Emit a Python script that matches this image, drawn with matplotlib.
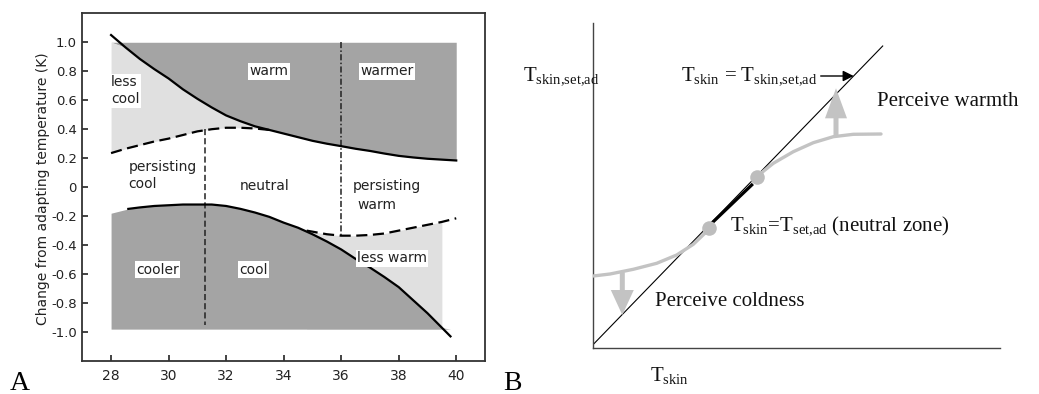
#!/usr/bin/env python3
import numpy as np
import matplotlib
matplotlib.use("Agg")
import matplotlib.pyplot as plt

plt.rcParams['font.family'] = ['DejaVu Sans']
plt.rcParams['mathtext.fontset'] = 'custom'
plt.rcParams['mathtext.rm'] = 'Liberation Serif'
plt.rcParams['mathtext.it'] = 'Liberation Serif:italic'
plt.rcParams['mathtext.bf'] = 'Liberation Serif:bold'

# ---- Panel A data (skin temperature vs change from adapting temperature) ----
x_ticks = [28, 30, 32, 34, 36, 38, 40]
y_ticks = [1.0, 0.8, 0.6, 0.4, 0.2, 0, -0.2, -0.4, -0.6, -0.8, -1.0]
y_tick_labels = ['1.0', '0.8', '0.6', '0.4', '0.2', '0', '-0.2', '-0.4', '-0.6', '-0.8', '-1.0']

# upper solid threshold (warm)
warm_x = [28.0, 28.5, 29.0, 29.5, 30.0, 30.5, 31.0, 31.5, 32.0, 32.5, 33.0, 33.5,
          34.0, 34.5, 35.0, 35.5, 36.0, 36.5, 37.0, 37.5, 38.0, 38.5, 39.0, 39.5, 40.0]
warm_y = [1.05, 0.965, 0.885, 0.815, 0.75, 0.675, 0.61, 0.55, 0.495, 0.455, 0.42, 0.395,
          0.37, 0.345, 0.32, 0.30, 0.283, 0.265, 0.25, 0.232, 0.216, 0.205, 0.196, 0.19, 0.184]

# upper dashed threshold (less cool)
lesscool_x = [28.0, 28.5, 29.0, 29.5, 30.0, 30.5, 31.0, 31.5, 32.0, 32.5, 33.0, 33.5]
lesscool_y = [0.235, 0.265, 0.29, 0.315, 0.335, 0.36, 0.385, 0.40, 0.41, 0.41, 0.405, 0.395]

# lower solid threshold (cool)
cool_x = [28.6, 29.0, 29.5, 30.0, 30.5, 31.0, 31.5, 32.0, 32.5, 33.0, 33.5, 34.0, 34.5,
          35.0, 35.5, 36.0, 36.5, 37.0, 37.5, 38.0, 38.5, 39.0, 39.5, 39.8]
cool_y = [-0.15, -0.14, -0.13, -0.125, -0.12, -0.12, -0.12, -0.13, -0.15, -0.175, -0.205,
          -0.245, -0.28, -0.325, -0.375, -0.43, -0.495, -0.555, -0.62, -0.69, -0.78,
          -0.87, -0.97, -1.03]

# lower dashed threshold (less warm)
lesswarm_x = [34.8, 35.5, 36.0, 36.5, 37.0, 37.5, 38.0, 38.5, 39.0, 39.5, 40.0]
lesswarm_y = [-0.30, -0.325, -0.335, -0.335, -0.33, -0.32, -0.30, -0.28, -0.26, -0.24, -0.215]

box_top, box_bottom = 1.0, -0.98
dark_left_lower, dark_left_lower_y = 28.0, -0.18
lesswarm_right = 39.5
split_cool_x, split_cool_top, split_cool_bottom = 31.25, 0.40, -0.95
split_warm_x, split_warm_top, split_warm_bottom = 36.0, 1.0, -0.335

region_labels = [
    ('less\ncool', 28.0, 0.665, 'left'),
    ('warm', 33.5, 0.80, 'center'),
    ('warmer', 37.6, 0.80, 'center'),
    ('persisting\ncool', 28.6, 0.08, 'left'),
    ('neutral', 33.35, 0.01, 'center'),
    ('persisting', 36.4, 0.01, 'left'),
    ('warm', 36.55, -0.12, 'left'),
    ('less warm', 37.77, -0.49, 'center'),
    ('cooler', 29.62, -0.57, 'center'),
    ('cool', 32.94, -0.57, 'center'),
]
boxed = {'cooler', 'cool', 'less warm', 'less\ncool', 'warmer'}

# ---- Panel B data (schematic, in pixel-like units) ----
diag_x = [0, 290]
diag_y = [3.3, 302.3]
cold_branch_x = [0.6, 17.3, 40.6, 64, 84, 100.6, 116.3]
cold_branch_y = [72.3, 74.3, 79, 85, 93.3, 104, 119]
warm_branch_x = [164, 180.6, 200.6, 220.6, 240.6, 260.6, 288.3]
warm_branch_y = [171.7, 185, 196.6, 205.6, 211.6, 214, 214.3]
neutral_x = [120.6, 159]
neutral_y = [126.6, 163.3]
dots_x = [116.3, 164]
dots_y = [120, 171.6]

fig = plt.figure(figsize=(10.39, 3.94), dpi=100)

# ================= Panel A =================
ax = fig.add_axes([82.3 / 1039, 33 / 394, 402.7 / 1039, 347.7 / 394])
ax.set_xlim(27, 41)
ax.set_ylim(-1.2, 1.2)

dark = '#a4a4a4'
light = '#e0e0e0'
wx = np.array(warm_x)
wy = np.array(warm_y)
lcx = np.array(lesscool_x)
lcy = np.array(lesscool_y)
ax.fill_between(wx, np.minimum(wy, box_top), box_top, color=dark, lw=0, zorder=1)
ax.fill_between(lcx, lcy, np.minimum(wy[:len(lcx)], box_top), color=light, lw=0, zorder=1)

lwx = np.array(lesswarm_x)
lwy = np.array(lesswarm_y)
m = lwx <= lesswarm_right
ax.fill_between(np.append(lwx[m], lesswarm_right), box_bottom,
                np.append(lwy[m], np.interp(lesswarm_right, lwx, lwy)),
                color=light, lw=0, zorder=1)
cx = np.concatenate(([dark_left_lower], cool_x))
cy = np.concatenate(([dark_left_lower_y], cool_y))
ax.fill_between(cx, box_bottom, np.maximum(cy, box_bottom), color=dark, lw=0, zorder=2)

ax.plot(warm_x, warm_y, color='black', lw=1.6, zorder=4)
ax.plot(cool_x, cool_y, color='black', lw=1.6, zorder=4)
ax.plot(lesscool_x, lesscool_y, color='black', lw=1.6, dashes=(5, 2.5), zorder=4)
ax.plot(lesswarm_x, lesswarm_y, color='black', lw=1.6, dashes=(5, 2.5), zorder=4)
ax.plot([split_cool_x, split_cool_x], [split_cool_top, split_cool_bottom],
        color='#222222', lw=1.1, dashes=(4, 2), zorder=3)
ax.plot([split_warm_x, split_warm_x], [split_warm_top, split_warm_bottom],
        color='#222222', lw=1.1, dashes=(4, 1.5, 1, 1.5), zorder=3)

for i, (txt, tx, ty, ha) in enumerate(region_labels):
    kw = {}
    if txt in boxed or i == 1:
        kw['bbox'] = dict(facecolor='white', edgecolor='none', pad=1.0)
    ax.text(tx, ty, txt, ha=ha, va='center', fontsize=10, color='#222222',
            linespacing=1.25, zorder=5, **kw)

ax.set_xticks(x_ticks)
ax.set_yticks(y_ticks)
ax.set_yticklabels(y_tick_labels)
ax.tick_params(direction='in', length=4, width=1.2, colors='#222222', labelsize=10)
ax.tick_params(axis='x', pad=6)
ax.tick_params(axis='y', pad=4, labelsize=9.5)
for s in ax.spines.values():
    s.set_linewidth(1.3)
    s.set_color('#333333')
ax.text(-0.098, 0.495, 'Change from adapting temperature (K)', transform=ax.transAxes,
        rotation=90, ha='center', va='center', fontsize=10, color='#222222')

# ================= Panel B =================
bx = fig.add_axes([592.7 / 1039, 45.7 / 394, 407.3 / 1039, 325 / 394])
bx.set_xlim(0, 407.3)
bx.set_ylim(0, 325)
for side in ['top', 'right']:
    bx.spines[side].set_visible(False)
for side in ['left', 'bottom']:
    bx.spines[side].set_linewidth(1.0)
    bx.spines[side].set_color('#444444')
bx.set_xticks([])
bx.set_yticks([])

gray = '#c3c3c3'
bx.plot(diag_x, diag_y, color='black', lw=0.8, zorder=2)
bx.plot(cold_branch_x, cold_branch_y, color=gray, lw=2.4, zorder=3, solid_capstyle='round')
bx.plot(warm_branch_x, warm_branch_y, color=gray, lw=2.4, zorder=3, solid_capstyle='round')
bx.plot(neutral_x, neutral_y, color='black', lw=2.3, zorder=4)
bx.scatter(dots_x, dots_y, s=110, color='#bdbdbd', zorder=5, lw=0)

bx.arrow(29.6, 76, 0, -42.7, width=5, head_width=23, head_length=25,
         length_includes_head=True, color=gray, lw=0, zorder=3)
bx.arrow(243.3, 212, 0, 48, width=5, head_width=22, head_length=30,
         length_includes_head=True, color=gray, lw=0, zorder=3)
bx.annotate('', xy=(261, 272.3), xytext=(228, 272.3),
            arrowprops=dict(arrowstyle='-|>', color='black', lw=1.0, mutation_scale=16,
                            shrinkA=0, shrinkB=0), annotation_clip=False)

serif = dict(family='Liberation Serif', fontsize=15, color='#111111')
sub_all = r'$_{\mathrm{skin{,}set{,}ad}}$'
sub_set = r'$_{\mathrm{set{,}ad}}$'
sub_skin = r'$_{\mathrm{skin}}$'
bx.text(-69.4, 268.3, 'T' + sub_all, va='baseline', ha='left', clip_on=False, **serif)
bx.text(88, 268.3, 'T' + sub_skin + ' = T' + sub_all, va='baseline', ha='left',
        clip_on=False, **serif)
bx.text(284, 242.3, 'Perceive warmth', va='baseline', ha='left', clip_on=False, **serif)
bx.text(137.3, 118.3, 'T' + sub_skin + '=T' + sub_set + ' (neutral zone)',
        va='baseline', ha='left', clip_on=False, **serif)
bx.text(62.3, 42.3, 'Perceive coldness', va='baseline', ha='left', clip_on=False, **serif)
bx.text(57.3, -32.7, 'T' + sub_skin, va='baseline', ha='left', clip_on=False, **serif)

fig.text(10 / 1039, 4 / 394, 'A', family='Liberation Serif', fontsize=20, va='baseline')
fig.text(503 / 1039, 4 / 394, 'B', family='Liberation Serif', fontsize=20, va='baseline')

fig.savefig('out.png', dpi=100)
